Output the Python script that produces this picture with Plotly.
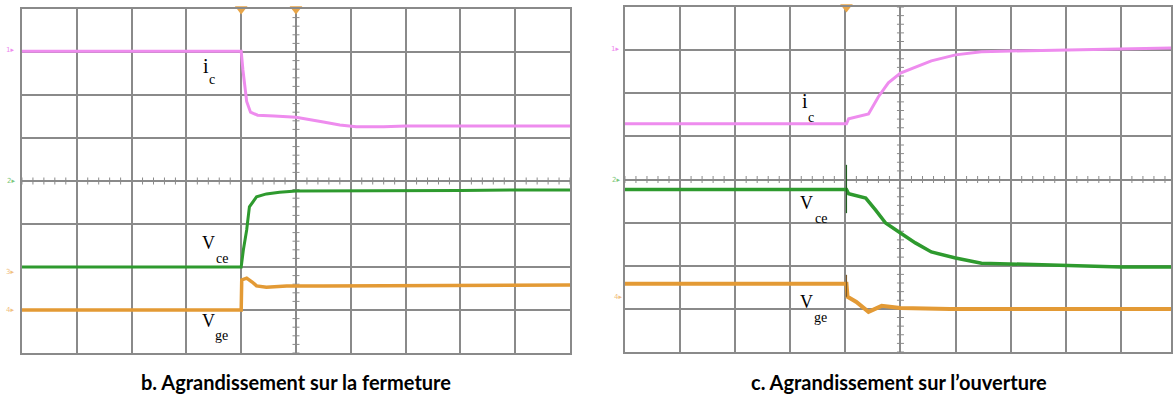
import plotly.graph_objects as go

W, H = 1173, 397

# ---------------- data (time and amplitude in screen divisions) ----------------
# b. turn-on (fermeture)
b_ic_t = [0, 1, 2, 3, 4.0, 4.03, 4.07, 4.1, 4.17, 4.3, 4.6, 5.0, 5.5, 5.8, 6.1, 6.6, 7.0, 8.0, 9.0, 10.0]
b_ic_v = [7.02, 7.02, 7.03, 7.02, 7.02, 6.6, 6.1, 5.85, 5.6, 5.53, 5.51, 5.48, 5.37, 5.3, 5.26, 5.26, 5.28, 5.28, 5.28, 5.28]

b_vce_t = [0, 1, 2, 3, 4.0, 4.04, 4.1, 4.15, 4.28, 4.46, 4.7, 5.0, 6.0, 7.0, 8.0, 9.0, 10.0]
b_vce_v = [2.0, 2.0, 2.0, 2.0, 2.0, 2.4, 2.86, 3.4, 3.63, 3.7, 3.74, 3.77, 3.77, 3.78, 3.78, 3.79, 3.79]

b_vge_t = [0, 1, 2, 3, 4.0, 4.01, 4.1, 4.2, 4.28, 4.46, 4.83, 5.5, 7.0, 8.5, 10.0]
b_vge_v = [1.0, 1.0, 1.0, 1.0, 1.0, 1.70, 1.74, 1.65, 1.56, 1.53, 1.56, 1.56, 1.56, 1.57, 1.58]

# c. turn-off (ouverture)
c_ic_t = [0, 1, 2, 3, 4.02, 4.06, 4.42, 4.6, 4.78, 5.0, 5.27, 5.56, 6.0, 6.47, 7.01, 7.99, 9.0, 9.91]
c_ic_v = [5.29, 5.29, 5.29, 5.29, 5.29, 5.41, 5.52, 5.92, 6.24, 6.47, 6.61, 6.75, 6.89, 6.96, 6.98, 7.0, 7.03, 7.05]

c_vce_t = [0, 1, 2, 3, 4.02, 4.06, 4.37, 4.55, 4.73, 5.0, 5.27, 5.56, 6.0, 6.47, 7.01, 7.99, 9.0, 9.91]
c_vce_v = [3.77, 3.77, 3.77, 3.77, 3.77, 3.67, 3.57, 3.29, 2.99, 2.76, 2.53, 2.32, 2.18, 2.06, 2.04, 2.0, 1.97, 1.97]

c_vge_t = [0, 1, 2, 3, 4.02, 4.04, 4.2, 4.42, 4.66, 5.0, 5.9, 7.0, 8.0, 9.0, 9.91]
c_vge_v = [1.58, 1.58, 1.58, 1.58, 1.58, 1.28, 1.16, 0.93, 1.07, 1.02, 1.0, 1.0, 1.0, 1.0, 1.0]

# switching spikes at the trigger instant (turn-off)
c_spike_t = [4.02, 4.02]
c_vce_spike_v = [4.34, 3.22]
c_vge_spike_v = [1.79, 1.28]

captions = ["b. Agrandissement sur la fermeture", "c. Agrandissement sur l\u2019ouverture"]

PINK = "#EE8CEE"
GREEN = "#2E9A2E"
ORANGE = "#E39A35"
GRID = "#8A8A8A"

fig = go.Figure()

def px_x(p):
    return p / W

def px_y(p):
    return 1 - p / H

panels = [
    dict(xr=[0, 10], xa="x", ya="y"),
    dict(xr=[0, 547 / 55.2], xa="x2", ya="y2"),
]

# center graticule ticks (decoration)
for p in panels:
    xmax = p["xr"][1]
    tx = [i * 0.2 for i in range(int(xmax / 0.2) + 1)]
    fig.add_trace(go.Scatter(x=tx, y=[4] * len(tx), mode="markers", xaxis=p["xa"], yaxis=p["ya"],
                             marker=dict(symbol="line-ns", size=5, line=dict(color=GRID, width=1)),
                             hoverinfo="skip", showlegend=False))
    ty = [i * 0.2 for i in range(41)]
    fig.add_trace(go.Scatter(x=[5] * len(ty), y=ty, mode="markers", xaxis=p["xa"], yaxis=p["ya"],
                             marker=dict(symbol="line-ew", size=5, line=dict(color=GRID, width=1)),
                             hoverinfo="skip", showlegend=False))

series = [
    (b_ic_t, b_ic_v, PINK, 3, "x", "y"),
    (b_vce_t, b_vce_v, GREEN, 3, "x", "y"),
    (b_vge_t, b_vge_v, ORANGE, 3.5, "x", "y"),
    (c_ic_t, c_ic_v, PINK, 3, "x2", "y2"),
    (c_vce_t, c_vce_v, GREEN, 3.5, "x2", "y2"),
    (c_vge_t, c_vge_v, ORANGE, 4, "x2", "y2"),
    (c_spike_t, c_vce_spike_v, "#1F5F1F", 1.2, "x2", "y2"),
    (c_spike_t, c_vge_spike_v, "#7A5A2A", 1.2, "x2", "y2"),
]
for t, v, col, w, xa, ya in series:
    fig.add_trace(go.Scatter(x=t, y=v, mode="lines", xaxis=xa, yaxis=ya,
                             line=dict(color=col, width=w), hoverinfo="skip", showlegend=False))

# trigger markers at top
fig.add_trace(go.Scatter(x=[4.0, 5.0], y=[8, 8], mode="markers", xaxis="x", yaxis="y", cliponaxis=False,
                         marker=dict(symbol="triangle-down", size=11, color="#E8A548"),
                         hoverinfo="skip", showlegend=False))
fig.add_trace(go.Scatter(x=[4.02], y=[8], mode="markers", xaxis="x2", yaxis="y2", cliponaxis=False,
                         marker=dict(symbol="triangle-down", size=11, color="#E8A548"),
                         hoverinfo="skip", showlegend=False))

axis_common = dict(showgrid=True, gridcolor=GRID, gridwidth=1.5, dtick=1, tick0=0,
                   zeroline=False, showticklabels=False, ticks="",
                   showline=True, mirror=True, linecolor=GRID, linewidth=1.5, fixedrange=True)

fig.update_layout(
    width=W, height=H,
    margin=dict(l=0, r=0, t=0, b=0),
    paper_bgcolor="white", plot_bgcolor="white",
    showlegend=False,
    xaxis=dict(domain=[px_x(22), px_x(571)], range=panels[0]["xr"], anchor="y", **axis_common),
    yaxis=dict(domain=[px_y(353), px_y(9)], range=[0, 8], anchor="x", **axis_common),
    xaxis2=dict(domain=[px_x(626), 1.0], range=panels[1]["xr"], anchor="y2", **axis_common),
    yaxis2=dict(domain=[px_y(352), px_y(7)], range=[0, 8], anchor="x2", **axis_common),
)

ann = []
serif = "Liberation Serif"
labels = [
    ("i", 206, 66, 20), ("c", 212, 80, 14),
    ("V", 209, 243, 18), ("ce", 222, 258, 14),
    ("V", 209, 321, 18), ("ge", 222, 335, 14),
    ("i", 806, 101, 20), ("c", 812, 118, 14),
    ("V", 808, 203, 18), ("ce", 822, 218, 14),
    ("V", 808, 302, 18), ("ge", 822, 317, 14),
]
for txt, x, y, s in labels:
    ann.append(dict(text=txt, x=px_x(x), y=px_y(y), xref="paper", yref="paper",
                    xanchor="center", yanchor="middle", showarrow=False,
                    font=dict(family=serif, size=s, color="black")))

# faint channel indicators
chan = [("1", 10, 50, PINK), ("2", 11, 181, "#7CC87C"), ("3", 10, 272, "#F0C080"), ("4", 10, 310, "#F0C080"),
        ("1", 616, 49, PINK), ("2", 617, 180, "#7CC87C"), ("4", 619, 297, "#F0C080")]
for txt, x, y, c in chan:
    ann.append(dict(text=txt + "\u25B8", x=px_x(x), y=px_y(y), xref="paper", yref="paper",
                    xanchor="center", yanchor="middle", showarrow=False,
                    font=dict(family="DejaVu Sans", size=7, color=c)))

for cap, cx in zip(captions, [297, 901]):
    ann.append(dict(text="<b>" + cap + "</b>", x=px_x(cx), y=px_y(382), xref="paper", yref="paper",
                    xanchor="center", yanchor="middle", showarrow=False,
                    font=dict(family="Lato", size=20, color="black")))

fig.update_layout(annotations=ann)

fig.write_html("out.html", config={"displayModeBar": False},
               post_script="document.body.style.margin='0';")
